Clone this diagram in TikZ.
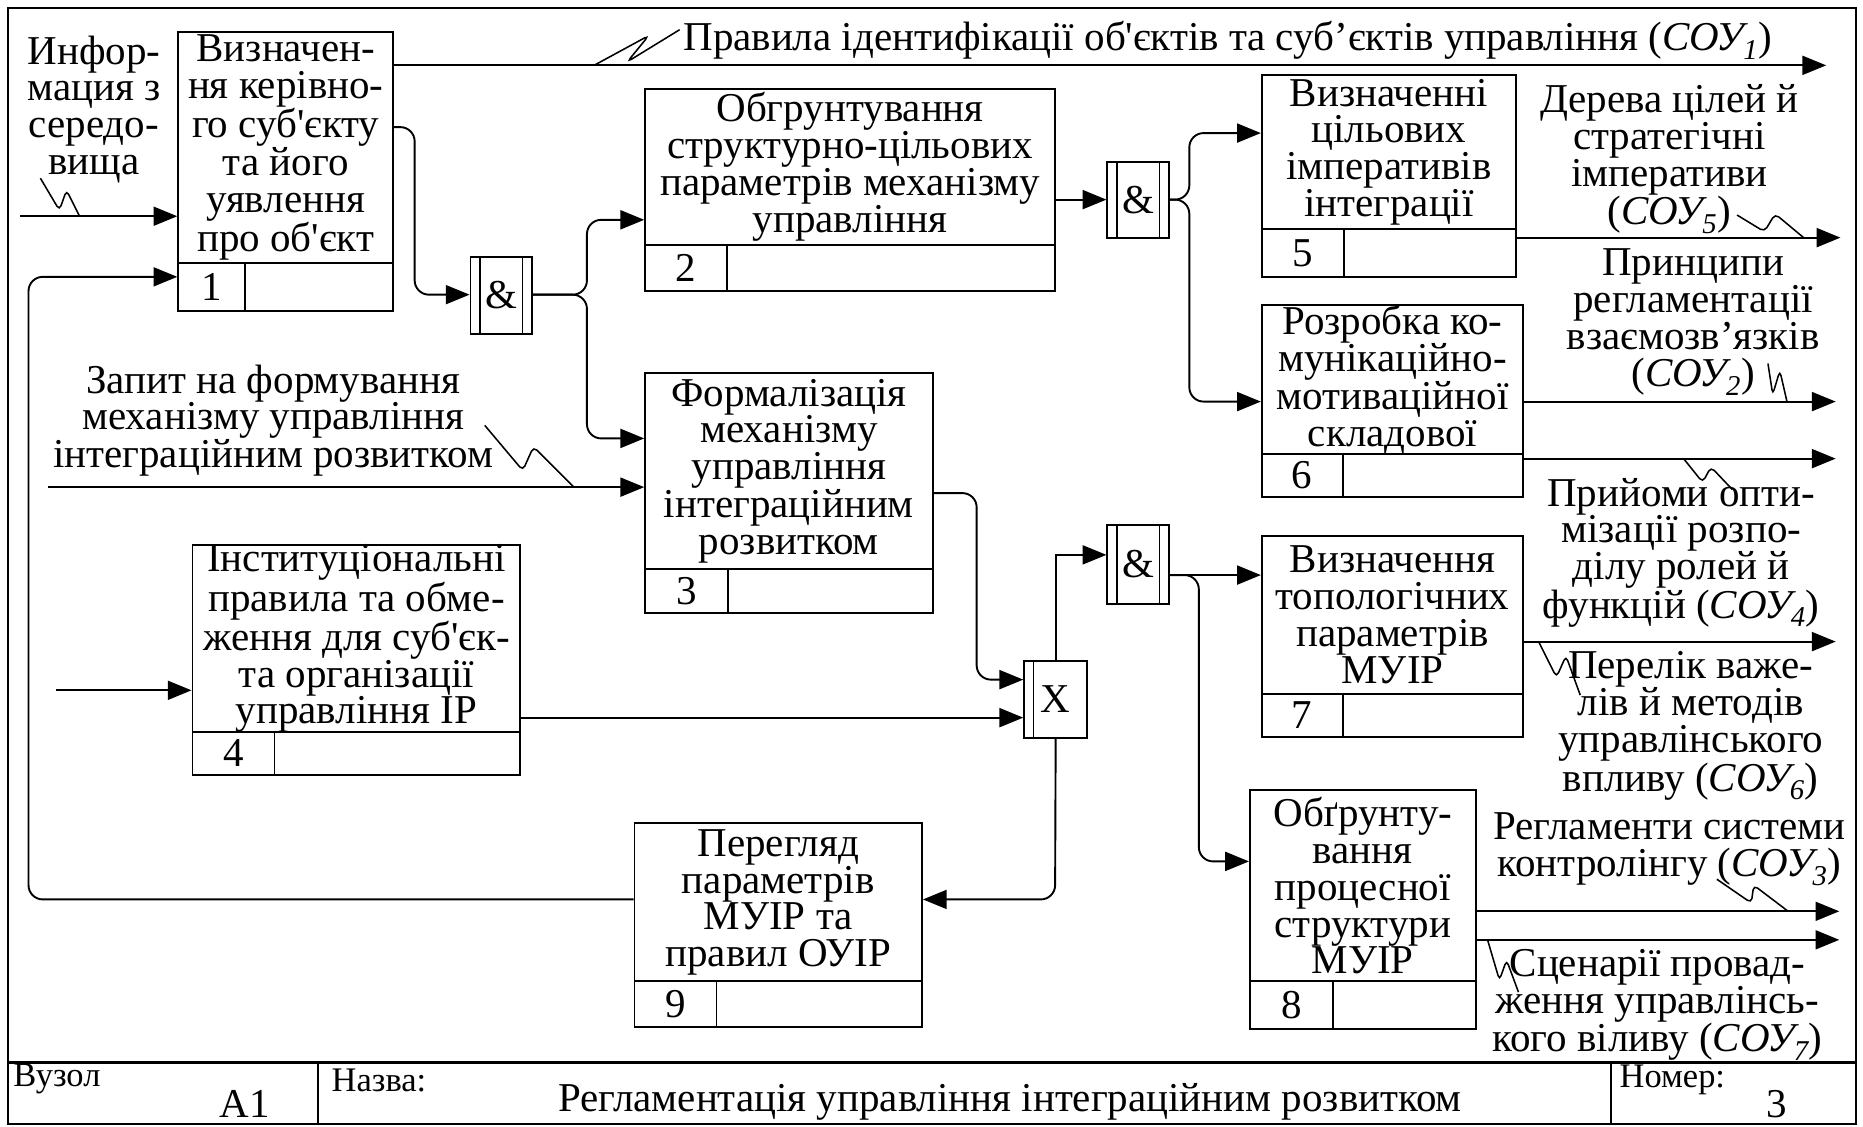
\documentclass[tikz,border=0pt]{standalone}
\usepackage{fontspec}
\setmainfont{Liberation Serif}
\usetikzlibrary{arrows.meta}
\newcommand\fs{\fontsize{34.5}{31}\selectfont}
\newcommand\fss{\fontsize{29}{31}\selectfont}
\newcommand\sq{\textquotesingle}
\newcommand\sou[1]{(\textit{СОУ\kern-1pt\textsubscript{#1}})}

% IDEF0 function block: name, x1, y1, x2, y2, divider y, number cell x, number, text
\newcommand\idefbox[9]{%
  \node[blk, minimum width={(#4-#2)*1pt}, minimum height={(#5-#3)*1pt}] (#1) at ({(#2+#4)/2},{(#3+#5)/2}) {};
  \draw[ln] (#2,#6) -- (#4,#6) (#7,#6) -- (#7,#5);
  \node[txt] (#1n) at ({(#2+#7)/2},{(#6+#5)/2}) {#8};
  \node[txt] (#1t) at ({(#2+#4)/2},{(#3+#6)/2}) {#9};
}
% junction box: name, x1, y1, x2, y2, symbol, bar on the right too (1/0)
\newcommand\junction[7]{%
  \node[blk, minimum width={(#4-#2)*1pt}, minimum height={(#5-#3)*1pt}, font=\fs] (#1) at ({(#2+#4)/2},{(#3+#5)/2}) {#6};
  \draw[bar] (#2+8,#3) -- (#2+8,#5);
  \ifnum#7=1 \draw[bar] (#4-8,#3) -- (#4-8,#5);\fi
}
% squiggle tying a label to its arrow
\newcommand\squig[4]{\draw[sqg] #1 -- #2 -- #3 -- #4;}

\tikzset{
  ln/.style={line width=1.6pt},
  bar/.style={line width=1.1pt},
  blk/.style={draw, ln, inner sep=0pt},
  txt/.style={align=center, inner sep=0pt, font=\fs},
  arr/.style={ln, rounded corners=12pt, -{Triangle[length=20pt,width=16pt]}},
  sqg/.style={line width=1.3pt, rounded corners=4pt},
  small/.style={inner sep=0pt, font=\fss},
}

\begin{document}
\begin{tikzpicture}[x=1pt,y=-1pt]
\useasboundingbox (0,0) rectangle (1568,948);

% frame and title block
\draw[ln] (7,7) rectangle (1562,946);
\draw[line width=2.6pt] (7,894) -- (1562,894);
\draw[ln] (268,894) -- (268,946) (1356,894) -- (1356,946);
\node[small, anchor=west] (uzol) at (11,908) {Вузол};
\node[txt] (uzoln) at (206,929) {A1};
\node[small, anchor=west] (nazva) at (279,909) {Назва:};
\node[txt] (title) at (850,927) {Регламентація управління інтеграційним розвитком};
\node[small, anchor=west] (nomer) at (1363,909) {Номер:};
\node[txt] (nomern) at (1495,929) {3};

% function blocks
\idefbox{b1}{150}{27}{331}{262}{221}{206}{1}{Визначен-\\ня керівно-\\го суб\sq єкту\\та його\\уявлення\\про об\sq єкт}
\idefbox{b2}{543}{75}{888}{245}{206}{612}{2}{Обгрунтування\\структурно-цільових\\параметрів механізму\\управління}
\idefbox{b3}{543}{314}{785}{516}{479}{613}{3}{Формалізація\\механізму\\управління\\інтеграційним\\розвитком}
\idefbox{b4}{162}{459}{438}{652}{616}{231}{4}{Інституціональні\\правила та обме-\\ження для суб\sq єк-\\та організації\\управління ІР}
\idefbox{b5}{1062}{63}{1276}{233}{193}{1131}{5}{Визначенні\\цільових\\імперативів\\інтеграції}
\idefbox{b6}{1062}{257}{1282}{418}{382}{1130}{6}{Розробка ко-\\мунікаційно-\\мотиваційної\\складової}
\idefbox{b7}{1062}{451}{1282}{620}{584}{1130}{7}{Визначення\\топологічних\\параметрів\\МУІР}
\idefbox{b8}{1052}{665}{1242}{866}{826}{1122}{8}{Обґрунту-\\вання\\процесної\\структури\\МУІР}
\idefbox{b9}{534}{693}{776}{864}{826}{603}{9}{Перегляд\\параметрів\\МУІР та\\правил ОУІР}

% junctions
\junction{g1}{396}{216}{448}{281}{\&}{1}
\junction{g2}{932}{136}{984}{200}{\&}{1}
\junction{g3}{932}{442}{984}{508}{\&}{1}
\junction{gx}{862}{556}{915}{621}{X}{0}

% free ends of boundary arrows
\coordinate (in1) at (17,182);
\coordinate (in3) at (40,410);
\coordinate (in4) at (47,581);
\coordinate (out1) at (1537,55);
\coordinate (out5) at (1549,200);
\coordinate (out2) at (1545,338);
\coordinate (out4) at (1545,386);
\coordinate (out6) at (1545,540);
\coordinate (out3) at (1548,767);
\coordinate (out7) at (1548,791);

% connectors
\draw[arr] (in1) -- (b1.west |- in1);
\draw[arr] (b1.east |- out1) -- (out1);
\draw[arr] (b1.east |- 0,107) -- (349,107) -- (349,248) -- (g1.west |- 0,248);
\draw[arr] (g1.east |- 0,248) -- (494,248) -- (494,185) -- (b2.west |- 0,185);
\draw[arr] (g1.east |- 0,248) -- (494,248) -- (494,369) -- (b3.west |- 0,369);
\draw[arr] (in3) -- (b3.west |- in3);
\draw[arr] (b2.east |- g2.west) -- (g2.west);
\draw[arr] (g2.east) -- (1001,168) -- (1001,112) -- (b5.west |- 0,112);
\draw[arr] (g2.east) -- (1001,168) -- (1001,338) -- (b6.west |- 0,338);
\draw[arr] (b5.east |- out5) -- (out5);
\draw[arr] (b6.east |- out2) -- (out2);
\draw[arr] (b6.east |- out4) -- (out4);
\draw[arr] (in4) -- (b4.west |- in4);
\draw[arr] (b3.east |- 0,415) -- (822,415) -- (822,572) -- (gx.west |- 0,572);
\draw[arr] (b4.east |- 0,604) -- (gx.west |- 0,604);
\draw[ln, -{Triangle[length=20pt,width=16pt]}] (gx.north) |- (g3.west |- 0,467);
\draw[arr] (gx.south) -- (888,757) -- (b9.east |- 0,757);
\draw[arr] (b9.west |- 0,757) -- (24,757) -- (24,233) -- (b1.west |- 0,233);
\draw[arr] (g3.east |- 0,484) -- (b7.west |- 0,484);
\draw[arr] (g3.east |- 0,484) -- (1009,484) -- (1009,725) -- (b8.west |- 0,725);
\draw[arr] (b7.east |- out6) -- (out6);
\draw[arr] (b8.east |- out3) -- (out3);
\draw[arr] (b8.east |- out7) -- (out7);

% arrow labels
\node[txt] (linfo) at (79,92) {Инфор-\\мация з\\середо-\\вища};
\node[txt, anchor=west] (lrules) at (575,34) {Правила ідентифікації об\sq єктів та суб’єктів управління \sou{1}};
\node[txt] (lzapyt) at (230,354) {Запит на формування\\механізму управління\\інтеграційним розвитком};
\node[txt] (ltrees) at (1405,134) {Дерева цілей й\\стратегічні\\імперативи\\\sou{5}};
\node[txt] (lprinc) at (1425,271) {Принципи\\регламентації\\взаємозв’язків\\\sou{2}};
\node[txt] (lmeth) at (1415,465) {Прийоми опти-\\мізації розпо-\\ділу ролей й\\функцій \sou{4}};
\node[txt] (llist) at (1423,611) {Перелік важе-\\лів й методів\\управлінського\\впливу \sou{6}};
\node[txt] (lregl) at (1405,715) {Регламенти системи\\контролінгу \sou{3}};
\node[txt] (lscen) at (1395,846) {Сценарії провад-\\ження управлінсь-\\кого віливу \sou{7}};

% squiggles
\squig{(500,55)}{(546,30)}{(528,52)}{(572,25)}
\squig{(34,150)}{(50,177)}{(56,160)}{(67,182)}
\squig{(408,358)}{(440,396)}{(449,376)}{(483,410)}
\squig{(1462,181)}{(1485,195)}{(1494,180)}{(1518,200)}
\squig{(1488,306)}{(1492,332)}{(1498,312)}{(1504,338)}
\squig{(1417,386)}{(1433,406)}{(1440,393)}{(1458,412)}
\squig{(1295,540)}{(1310,570)}{(1318,552)}{(1330,585)}
\squig{(1445,740)}{(1474,760)}{(1476,745)}{(1505,767)}
\squig{(1252,791)}{(1262,825)}{(1268,808)}{(1278,835)}
\end{tikzpicture}
\end{document}
